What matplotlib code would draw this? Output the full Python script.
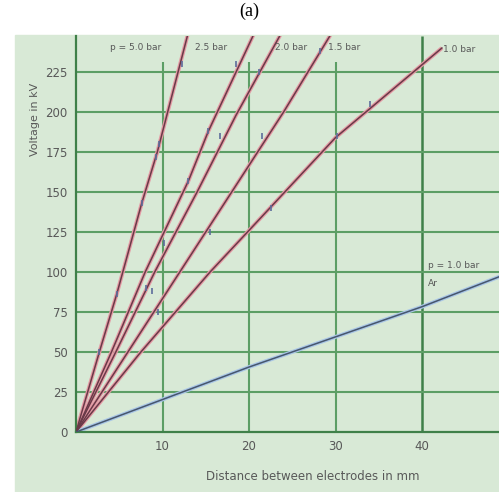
import matplotlib.pyplot as plt
from matplotlib.patches import Rectangle

# breakdown voltage curves (distance in mm, voltage in kV)
d_50 = [0, 2.7, 4.7, 7.6, 9.4, 12.9]
v_50 = [0, 50, 86, 143, 175, 248]
d_25 = [0, 4.1, 8.0, 13.0, 15.3, 20.5]
v_25 = [0, 50, 100, 157, 188, 248]
d_20 = [0, 4.6, 9.1, 14.0, 18.5, 23.6]
v_20 = [0, 50, 100, 150, 198, 248]
d_15 = [0, 6.0, 12.0, 18.0, 24.0, 29.4]
v_15 = [0, 50, 100, 150, 200, 248]
d_10 = [0, 7.5, 15.5, 20.0, 30.0, 42.3]
v_10 = [0, 50, 100, 126, 184, 240]
d_air = [0, 20.0, 40.0, 48.9]
v_air = [0, 40.6, 78.3, 97.0]

# measured points (small marks on the curves)
pts_d = [2.7, 4.7, 7.6, 9.3, 9.6, 12.3, 8.1, 13.0, 15.3, 18.5, 8.8, 10.2, 16.6, 21.1,
         9.5, 15.5, 21.5, 28.2, 22.5, 30.2, 34.0]
pts_v = [50, 86, 143, 172, 180, 230, 90, 157, 188, 230, 88, 118, 185, 225,
         75, 125, 185, 238, 140, 185, 205]

x_ticks = [10, 20, 30, 40]
x_ticklabels = ['10', '20', '30', '40']
y_ticks = [0, 25, 50, 75, 100, 125, 150, 175, 200, 225]
y_ticklabels = ['0', '25', '50', '75', '100', '125', '150', '175', '200', '225']

bg = '#d8e9d6'
grid_col = '#5c9e65'
txt = '#585858'

fig = plt.figure(figsize=(4.99, 4.92), dpi=100)
fig.patches.append(Rectangle((15 / 499, 0), 1, (492 - 35) / 492,
                             transform=fig.transFigure, color=bg, zorder=-10))
fig.text(0.5, 0.976, '(a)', ha='center', va='center', fontsize=13,
         family='Liberation Serif')

ax = fig.add_axes([76 / 499, 60 / 492, 1 - 76 / 499, 396 / 492])
ax.set_facecolor(bg)
ax.set_xlim(0, 48.9)
ax.set_ylim(0, 247.5)

# grid: vertical lines stop short of the top, except the one at 40
for xv in x_ticks[:-1]:
    ax.vlines(xv, 0, 231, color=grid_col, lw=1.5, zorder=1)
ax.vlines(40, 0, 247.5, color='#3f8049', lw=1.8, zorder=1)
for yv in y_ticks[1:]:
    ax.axhline(yv, color=grid_col, lw=1.5, zorder=1)

for s in ['top', 'right']:
    ax.spines[s].set_visible(False)
for s in ['left', 'bottom']:
    ax.spines[s].set_color('#3f8049')
    ax.spines[s].set_linewidth(1.6)

for dd, vv in [(d_50, v_50), (d_25, v_25), (d_20, v_20), (d_15, v_15), (d_10, v_10)]:
    ax.plot(dd, vv, color='#e49aa4', lw=2.8, zorder=2, solid_capstyle='butt')
    ax.plot(dd, vv, color='#6a3a48', lw=1.1, zorder=3)
ax.plot(d_air, v_air, color='#a9c6e6', lw=2.8, zorder=2)
ax.plot(d_air, v_air, color='#46566e', lw=1.1, zorder=3)
ax.scatter(pts_d, pts_v, marker='|', s=25, color='#5d6d9c', lw=1.2, zorder=4)

ax.set_xticks(x_ticks)
ax.set_xticklabels(x_ticklabels)
ax.set_yticks(y_ticks)
ax.set_yticklabels(y_ticklabels)
ax.tick_params(length=0, labelsize=8.5, labelcolor=txt, pad=6)

ax.set_ylabel('Voltage in kV', fontsize=8, color=txt)
ax.yaxis.set_label_coords(-0.085, 0.79)
ax.set_xlabel('Distance between electrodes in mm', fontsize=8.5, color=txt)
ax.xaxis.set_label_coords(0.56, -0.096)

lab = dict(fontsize=6.5, color=txt, va='center', ha='left', zorder=5)
ax.text(3.9, 240.5, 'p = 5.0 bar', **lab)
ax.text(13.8, 240.5, '2.5 bar', **lab)
ax.text(23.0, 240.5, '2.0 bar', **lab)
ax.text(29.1, 240.5, '1.5 bar', **lab)
ax.text(42.4, 239, '1.0 bar', **lab)
ax.text(40.7, 104, 'p = 1.0 bar', **lab)
ax.text(40.7, 93, 'Ar', **lab)

fig.savefig('out.png', dpi=100)
